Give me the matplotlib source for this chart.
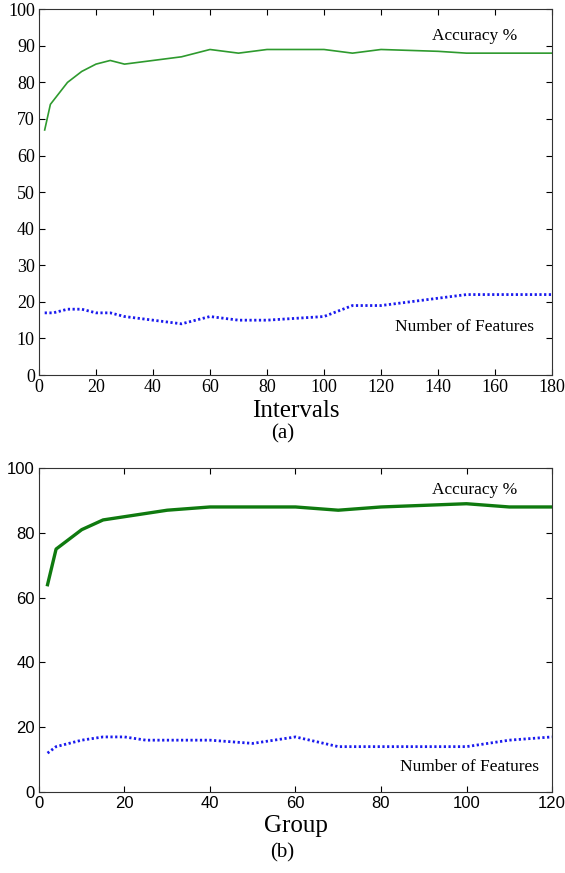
import numpy as np
import matplotlib.pyplot as plt

# panel (a): intervals
int_x = [2, 4, 10, 15, 20, 25, 30, 40, 50, 60, 70, 80, 90, 100, 110, 120, 140, 150, 160, 180]
int_acc = [67, 74, 80, 83, 85, 86, 85, 86, 87, 89, 88, 89, 89, 89, 88, 89, 88.5, 88, 88, 88]
int_feat_x = [2, 5, 10, 15, 20, 25, 30, 40, 50, 60, 70, 80, 90, 100, 110, 120, 130, 140, 150, 160, 170, 180]
int_feat = [17, 17, 18, 18, 17, 17, 16, 15, 14, 16, 15, 15, 15.5, 16, 19, 19, 20, 21, 22, 22, 22, 22]

# panel (b): group
grp_x = [2, 4, 10, 15, 20, 30, 40, 50, 60, 70, 80, 90, 100, 110, 120]
grp_acc = [64, 75, 81, 84, 85, 87, 88, 88, 88, 87, 88, 88.5, 89, 88, 88]
grp_feat_x = [2, 4, 10, 15, 20, 25, 30, 40, 50, 60, 70, 80, 90, 100, 110, 120]
grp_feat = [12, 14, 16, 17, 17, 16, 16, 16, 15, 17, 14, 14, 14, 14, 16, 17]

serif = 'Liberation Serif'
sans = 'Liberation Sans'
dots = (0, (0.8, 0.9))

fig = plt.figure(figsize=(5.65, 8.73), dpi=100)

ax1 = fig.add_axes([0.069, 0.5704, 0.908, 0.419])
ax1.plot(int_x, int_acc, color='#2e9a2e', lw=1.2)
ax1.plot(int_feat_x, int_feat, color='#1a1aee', lw=2, ls=dots)
ax1.set_xlim(0, 180)
ax1.set_ylim(0, 100)
ax1.set_xticks(range(0, 181, 20))
ax1.set_yticks(range(0, 101, 10))
ax1.tick_params(direction='in', top=True, right=True, length=4, labelsize=13, pad=3)
for lab in ax1.get_xticklabels() + ax1.get_yticklabels():
    lab.set_fontfamily(serif)
ax1.text(138, 91.5, 'Accuracy %', fontfamily=serif, fontsize=12.5)
ax1.text(125, 12, 'Number of Features', fontfamily=serif, fontsize=12.5)
ax1.set_xlabel('Intervals', fontfamily=serif, fontsize=18, labelpad=3)
fig.text(0.5, 0.503, '(a)', fontfamily=serif, fontsize=15, ha='center', va='center')

ax2 = fig.add_axes([0.069, 0.0928, 0.908, 0.371])
ax2.plot(grp_x, grp_acc, color='#0f7a0f', lw=2.4)
ax2.plot(grp_feat_x, grp_feat, color='#1a1aee', lw=2, ls=dots)
ax2.set_xlim(0, 120)
ax2.set_ylim(0, 100)
ax2.set_xticks(range(0, 121, 20))
ax2.set_yticks(range(0, 101, 20))
ax2.tick_params(direction='in', top=True, right=True, length=4, labelsize=12, pad=3)
for lab in ax2.get_xticklabels() + ax2.get_yticklabels():
    lab.set_fontfamily(sans)
ax2.text(92, 92, 'Accuracy %', fontfamily=serif, fontsize=12.5)
ax2.text(84.5, 6.5, 'Number of Features', fontfamily=serif, fontsize=12.5)
ax2.set_xlabel('Group', fontfamily=serif, fontsize=18, labelpad=3)
fig.text(0.5, 0.023, '(b)', fontfamily=serif, fontsize=15, ha='center', va='center')

for ax in (ax1, ax2):
    for s in ax.spines.values():
        s.set_color('#333333')

fig.savefig('out.png', dpi=100)
